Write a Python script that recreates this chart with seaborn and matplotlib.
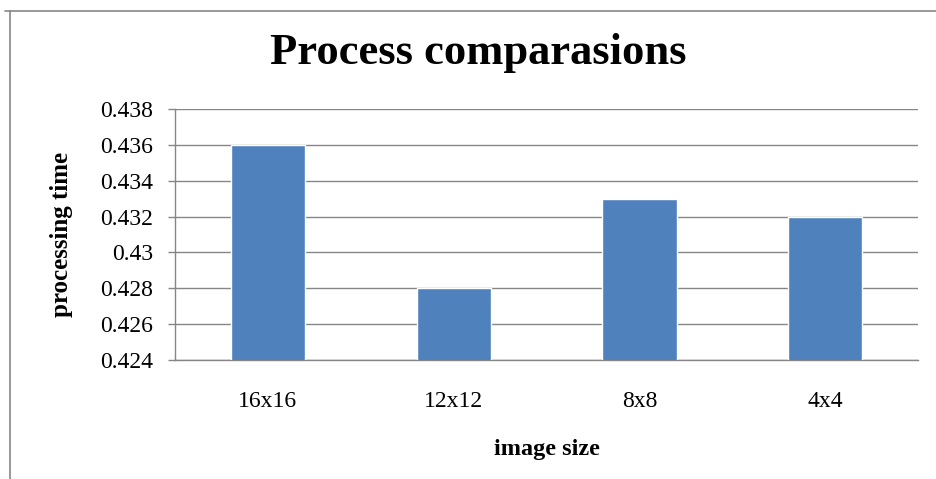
import matplotlib
matplotlib.use("Agg")
import matplotlib.pyplot as plt
from matplotlib.lines import Line2D
import seaborn as sns
import pandas as pd

categories = ["16x16", "12x12", "8x8", "4x4"]
times = [0.436, 0.428, 0.433, 0.432]
yticks = [0.424, 0.426, 0.428, 0.43, 0.432, 0.434, 0.436, 0.438]
ytick_labels = ["0.424", "0.426", "0.428", "0.43", "0.432", "0.434", "0.436", "0.438"]

sns.set_style("white")
plt.rcParams["font.family"] = ["Liberation Serif", "DejaVu Serif"]
plt.rcParams["text.color"] = "black"
plt.rcParams["axes.labelcolor"] = "black"
plt.rcParams["xtick.color"] = "black"
plt.rcParams["ytick.color"] = "black"

df = pd.DataFrame({"size": categories, "time": times})

fig = plt.figure(figsize=(9.36, 4.79), dpi=100)
ax = fig.add_axes([0.187, 0.2484, 0.794, 0.524])

sns.barplot(data=df, x="size", y="time", color="#4F81BD", saturation=1,
            width=0.4, ax=ax, zorder=3)

ax.set_ylim(0.424, 0.438)
ax.set_yticks(yticks)
ax.set_yticklabels(ytick_labels)
ax.set_xlim(-0.5, len(categories) - 0.5)

ax.yaxis.grid(True, color="#868686", linewidth=1.0, zorder=0)
ax.set_axisbelow(True)
for side in ["top", "right"]:
    ax.spines[side].set_visible(False)
for side in ["left", "bottom"]:
    ax.spines[side].set_color("#868686")
    ax.spines[side].set_linewidth(1.0)

ax.tick_params(axis="y", which="both", left=True, length=5, width=1.0,
               color="#868686", labelcolor="black", labelsize=17, pad=11)
ax.tick_params(axis="x", bottom=False, labelsize=17, pad=19, labelcolor="black")

ax.set_xlabel("image size", fontsize=17.5, fontweight="bold", labelpad=19)
ax.set_ylabel("processing time", fontsize=18, fontweight="bold", labelpad=19)

fig.text(0.511, 1 - 64 / 479, "Process comparasions", ha="center", va="baseline",
         fontsize=32, fontweight="bold", color="black")

# outer chart frame
fig.add_artist(Line2D([5 / 936, 1], [1 - 11 / 479, 1 - 11 / 479],
                      transform=fig.transFigure, color="#868686", linewidth=1.2))
fig.add_artist(Line2D([10 / 936, 10 / 936], [0, 1 - 11 / 479],
                      transform=fig.transFigure, color="#868686", linewidth=1.2))

fig.savefig("out.png", dpi=100)
